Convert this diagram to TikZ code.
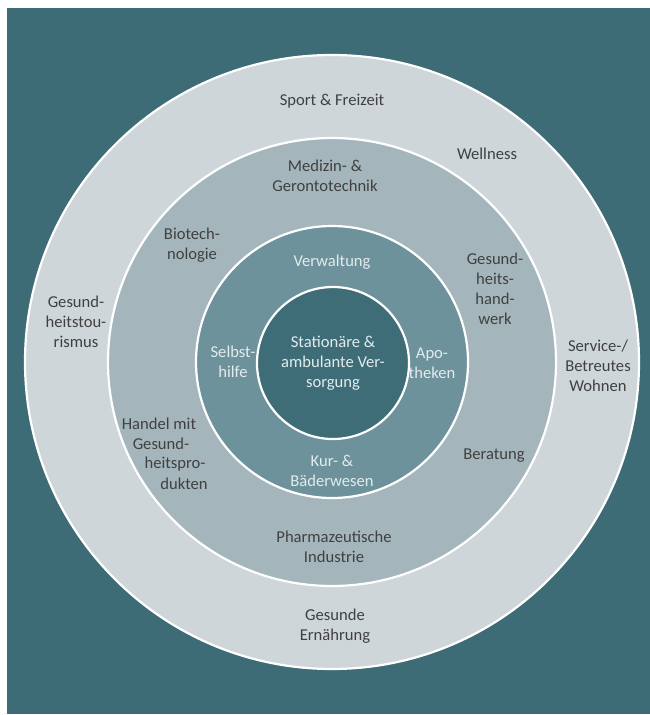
\documentclass[tikz,border=0pt]{standalone}
\usepackage{fontspec}
\setmainfont{Carlito}
\definecolor{bgteal}{HTML}{3D6B76}
\definecolor{ringA}{HTML}{CED6D9}
\definecolor{ringB}{HTML}{A4B6BC}
\definecolor{ringC}{HTML}{6D929B}
\definecolor{ringD}{HTML}{3E6D78}
\definecolor{darktext}{HTML}{404040}
\definecolor{lighttext}{HTML}{E2EBED}
\begin{document}
\begin{tikzpicture}[x=1pt,y=-1pt,
  ring/.style={draw=white,line width=2.2pt},
  lbl/.style={align=center,inner sep=0pt,font=\fontsize{16.6}{20}\selectfont},
  dlbl/.style={lbl,text=darktext},
  wlbl/.style={lbl,text=lighttext}]
\useasboundingbox (0,0) rectangle (650,715);
\fill[white] (0,0) rectangle (650,715);
\fill[bgteal] (7,8) rectangle (650,714);
\coordinate (c) at (332,362);
\fill[ringA,ring] (c) circle[radius=307];
\fill[ringB,ring] (c) circle[radius=224];
\fill[ringC,ring] (c) circle[radius=136];
\fill[ringD,ring] (333,363) circle[radius=76];
% outer ring
\node[dlbl] (sport) at (332,101) {Sport \& Freizeit};
\node[dlbl] (well) at (487,154) {Wellness};
\node[dlbl] (tour) at (76,322) {Gesund-\\heitstou-\\rismus};
\node[dlbl] (serv) at (598,366) {Service-/\\Betreutes\\Wohnen};
\node[dlbl] (ernae) at (335,626) {Gesunde\\Ernährung};
% second ring
\node[dlbl] (medi) at (325,176) {Medizin- \&\\Gerontotechnik};
\node[dlbl] (bio) at (192,245) {Biotech-\\nologie};
\node[dlbl] (hand) at (495,289) {Gesund-\\heits-\\hand-\\werk};
\node[dlbl] (handel1) at (159,424) {Handel mit};
\node[dlbl] (handel2) at (161,444) {Gesund-};
\node[dlbl] (handel3) at (175,464) {heitspro-};
\node[dlbl] (handel4) at (184,484) {dukten};
\node[dlbl] (berat) at (494,456) {Beratung};
\node[dlbl] (pharma) at (334,547) {Pharmazeutische\\Industrie};
% third ring
\node[wlbl] (verw) at (332,262) {Verwaltung};
\node[wlbl] (selbst) at (233,362) {Selbst-\\hilfe};
\node[wlbl] (apo) at (432,363) {Apo-\\theken};
\node[wlbl] (kur) at (332,471) {Kur- \&\\Bäderwesen};
% inner
\node[wlbl] (stat) at (333,363) {Stationäre \&\\ambulante Ver-\\sorgung};
\end{tikzpicture}
\end{document}
